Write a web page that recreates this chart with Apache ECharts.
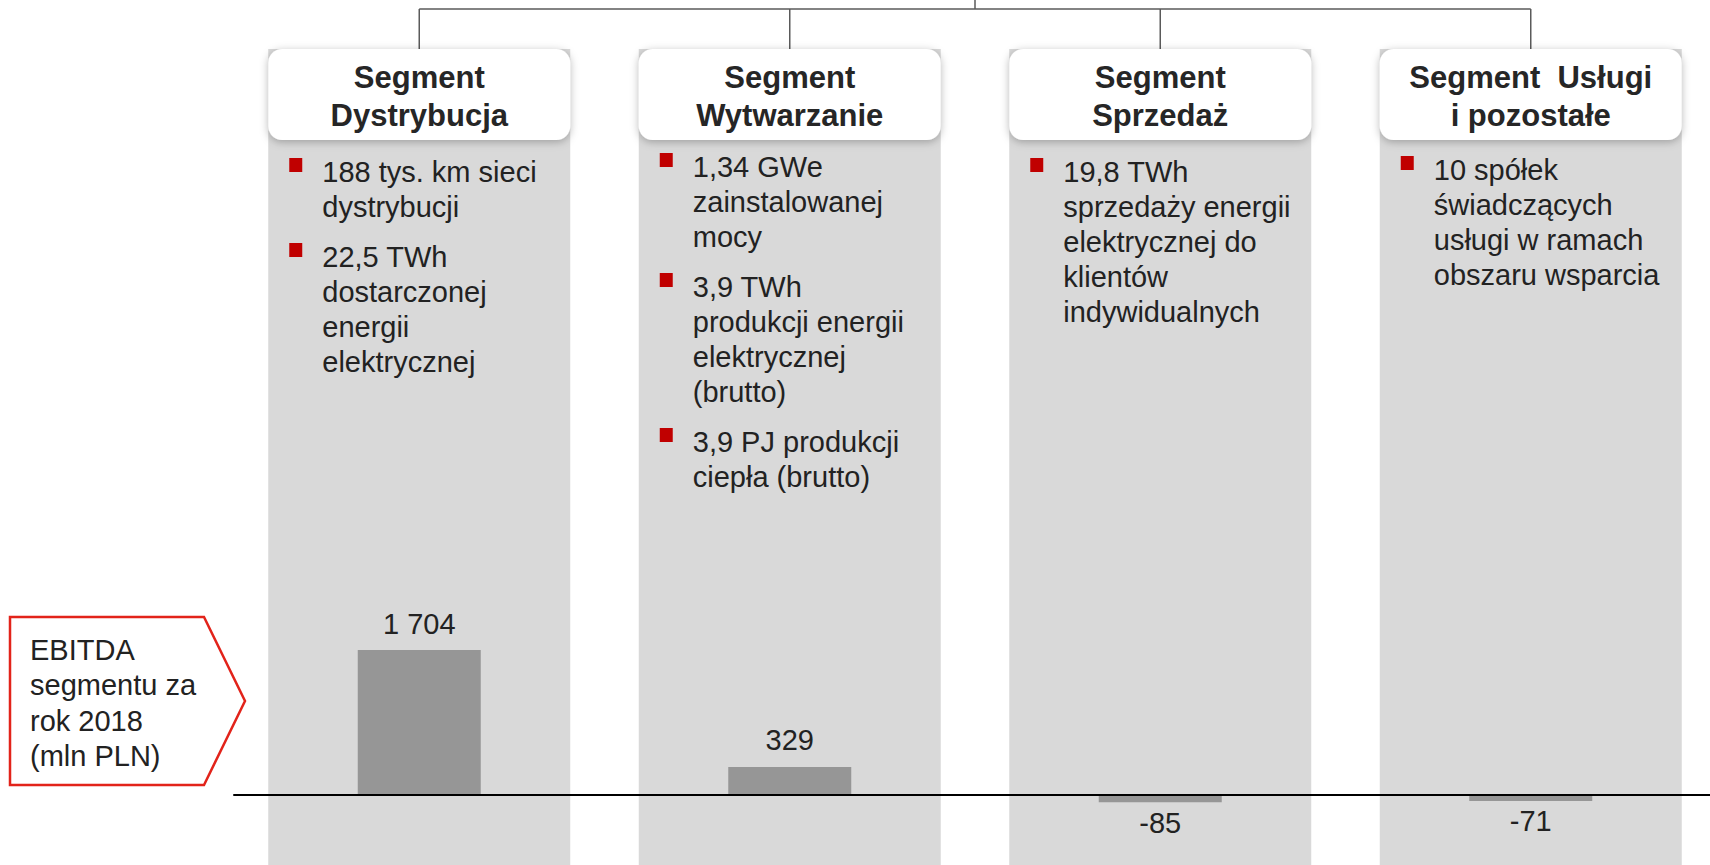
<!DOCTYPE html>
<html>
<head>
<meta charset="utf-8">
<script src="https://cdn.jsdelivr.net/npm/echarts@6/dist/echarts.min.js"></script>
<style>
  html, body { margin: 0; padding: 0; background: #ffffff; }
  #chart { width: 1710px; height: 865px; }
</style>
</head>
<body>
<div id="chart"></div>
<script>
// ---------- data ----------
const categories = ['Segment\nDystrybucja', 'Segment\nWytwarzanie', 'Segment\nSprzedaż', 'Segment  Usługi\ni pozostałe'];
const ebitda = [1704, 329, -85, -71];
const bulletsDystrybucja = [
  ['188 tys. km sieci', 'dystrybucji'],
  ['22,5 TWh', 'dostarczonej', 'energii', 'elektrycznej']
];
const bulletsWytwarzanie = [
  ['1,34 GWe', 'zainstalowanej', 'mocy'],
  ['3,9 TWh', 'produkcji energii', 'elektrycznej', '(brutto)'],
  ['3,9 PJ produkcji', 'ciepła (brutto)']
];
const bulletsSprzedaz = [
  ['19,8 TWh', 'sprzedaży energii', 'elektrycznej do', 'klientów', 'indywidualnych']
];
const bulletsUslugi = [
  ['10 spółek', 'świadczących', 'usługi w ramach', 'obszaru wsparcia']
];
const calloutLines = ['EBITDA', 'segmentu za', 'rok 2018', '(mln PLN)'];

// ---------- layout / style ----------
const FONT = '"Liberation Sans", Arial, sans-serif';
const TEXT_COLOR = '#222222';
const Y_MIN = -824, Y_MAX = 8776;
const COL_W = 302, HEADER_H = 91;
const bulletStartY = [172, 167, 172, 170];
const LINE_H = 35, BULLET_GAP = 15;
const allBullets = [bulletsDystrybucja, bulletsWytwarzanie, bulletsSprzedaz, bulletsUslugi];

function fmt(v) {
  return String(v).replace(/\B(?=(\d{3})+(?!\d))/g, ' ');
}

const chart = echarts.init(document.getElementById('chart'), null, { renderer: 'svg' });

function renderColumn(params, api) {
  const idx = api.value(0);
  const cx = api.coord([idx, 0])[0];
  const top = api.coord([idx, Y_MAX])[1];
  const bottom = api.coord([idx, Y_MIN])[1];
  const left = cx - COL_W / 2;
  const children = [];
  children.push({ type: 'rect', shape: { x: left, y: top, width: COL_W, height: bottom - top },
    style: { fill: '#d9d9d9' }, z2: 0 });
  children.push({ type: 'line', shape: { x1: cx, y1: 9, x2: cx, y2: top },
    style: { stroke: '#5a5a5a', lineWidth: 1.5 }, z2: 1 });
  if (idx === 0) {
    const x3 = api.coord([3, 0])[0];
    children.push({ type: 'line', shape: { x1: cx, y1: 9, x2: x3, y2: 9 },
      style: { stroke: '#5a5a5a', lineWidth: 1.5 }, z2: 1 });
    const mid = (cx + x3) / 2;
    children.push({ type: 'line', shape: { x1: mid, y1: 0, x2: mid, y2: 9 },
      style: { stroke: '#5a5a5a', lineWidth: 1.5 }, z2: 1 });
  }
  children.push({ type: 'rect', shape: { x: left, y: top, width: COL_W, height: HEADER_H, r: 14 },
    style: { fill: '#ffffff', shadowBlur: 8, shadowColor: 'rgba(0,0,0,0.28)', shadowOffsetY: 2 }, z2: 2 });
  children.push({ type: 'text', z2: 3, style: {
    text: categories[idx], x: cx, y: top + 47, align: 'center', verticalAlign: 'middle',
    font: 'bold 31px ' + FONT, lineHeight: 38, fill: '#262626' } });
  let y = bulletStartY[idx];
  allBullets[idx].forEach(function (lines) {
    children.push({ type: 'rect', shape: { x: left + 21, y: y - 14, width: 13, height: 14 },
      style: { fill: '#c00000' }, z2: 3 });
    lines.forEach(function (ln) {
      children.push({ type: 'text', z2: 3, style: {
        text: ln, x: left + 54, y: y, align: 'left', verticalAlign: 'middle',
        font: '29px ' + FONT, fill: TEXT_COLOR } });
      y += LINE_H;
    });
    y += BULLET_GAP;
  });
  return { type: 'group', children: children };
}

const option = {
  animation: false,
  backgroundColor: '#ffffff',
  grid: { left: 234, right: -6, top: 49, bottom: 0, outerBoundsMode: 'none', containLabel: false },
  xAxis: {
    type: 'category',
    data: categories,
    z: 10,
    axisLine: { show: true, onZero: true, lineStyle: { color: '#000000', width: 2 } },
    axisTick: { show: false },
    axisLabel: { show: false },
    splitLine: { show: false }
  },
  yAxis: {
    type: 'value', min: Y_MIN, max: Y_MAX, show: false,
    splitLine: { show: false }
  },
  graphic: [
    { type: 'polygon', z: 5,
      shape: { points: [[10, 617], [204, 617], [245, 701], [204, 785], [10, 785]] },
      style: { fill: '#ffffff', stroke: '#e2231a', lineWidth: 2.5 } },
    { type: 'text', z: 6,
      style: { text: calloutLines.join('\n'), x: 30, y: 703, font: '29px ' + FONT,
        fill: TEXT_COLOR, lineHeight: 35.5, align: 'left', verticalAlign: 'middle',
        textAlign: 'left', textVerticalAlign: 'middle' } }
  ],
  series: [
    {
      type: 'custom',
      z: 1,
      clip: false,
      silent: true,
      data: categories.map(function (c, i) { return [i]; }),
      encode: { x: 0 },
      renderItem: renderColumn
    },
    {
      type: 'bar',
      z: 5,
      barWidth: 123,
      itemStyle: { color: '#969696' },
      data: ebitda.map(function (v) {
        return {
          value: v,
          label: { position: v < 0 ? 'bottom' : 'top', distance: v < 0 ? 6 : 12 }
        };
      }),
      label: {
        show: true,
        fontFamily: FONT,
        fontSize: 29,
        color: TEXT_COLOR,
        formatter: function (p) { return fmt(p.value); }
      }
    }
  ]
};
chart.setOption(option);
</script>
</body>
</html>
